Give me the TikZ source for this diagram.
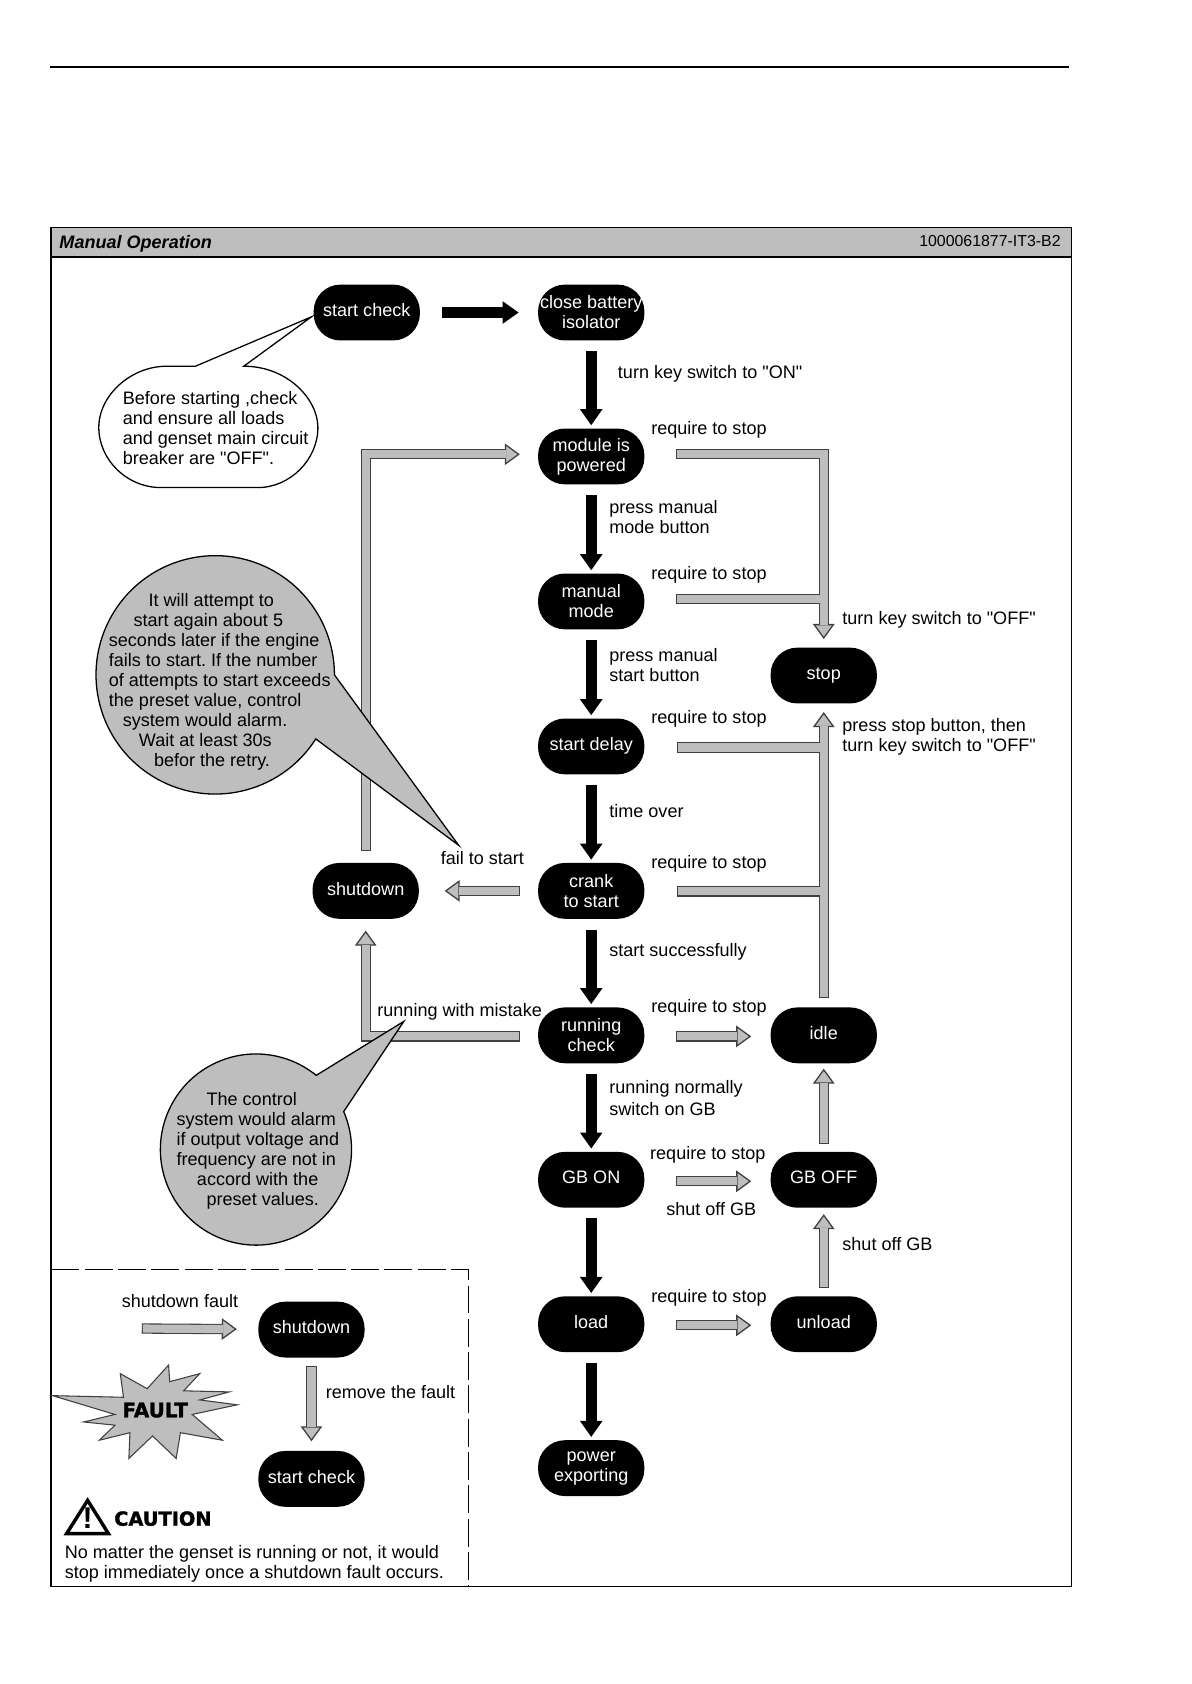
\documentclass[tikz,border=0pt]{standalone}
\usepackage{fontspec}
\setmainfont[Ligatures=TeXOff]{Liberation Sans}
\newfontfamily\heavyfont[BoldFeatures={FakeBold=1.5}]{DejaVu Sans}
\usetikzlibrary{arrows.meta}

\definecolor{boxgrey}{HTML}{BEBEBE}
\definecolor{greyline}{HTML}{404040}

\tikzset{
    state/.style={fill=black, text=white, rounded corners=12.5pt, minimum width=49.5pt, minimum height=26pt, inner sep=0pt, outer sep=0pt, align=center},
    oneline/.style={state, align=none, text depth=2pt},
    lbl/.style={anchor=west, inner sep=0pt, align=left},
    note/.style={anchor=north west, inner sep=0pt, align=left},
    greytip/.tip={Triangle[length=7pt,width=10pt,line width=0.6pt,color=greyline,fill=boxgrey]},
    blackarrow/.style={line width=5pt, shorten <=5pt, shorten >=1.5pt, -{Triangle[length=7.5pt,width=10pt]}},
    greyback/.style={line width=4.8pt, draw=greyline},
    greyfront/.style={line width=3.8pt, draw=boxgrey},
    balloon/.style={draw=black, line width=0.6pt, fill=boxgrey}
}

% tail gap, head gap, path
\newcommand{\greyarrow}[3]{
    \draw[greyback, shorten <=#1, shorten >=#2, -greytip] #3;
    \draw[greyfront, shorten <=#1+0.5pt, shorten >=#2+6.5pt] #3;
}

\begin{document}
\frenchspacing
\begin{tikzpicture}[x=0.5pt, y=-0.5pt, font=\fontsize{8.4}{9.3}\selectfont]
    \useasboundingbox (0,0) rectangle (1109,1568);

    % Rule and frame
    \draw[line width=1pt] (47,62) -- (995,62);
    \draw[line width=0.5pt, fill=boxgrey] (47.5,211.5) rectangle (997.5,239);
    \draw[line width=0.5pt] (47.5,211.5) rectangle (997.5,1477.5);
    \draw[line width=1pt] (47.5,239) -- (997.5,239);
    \node[lbl, font=\fontsize{8.4}{9.3}\selectfont\bfseries\itshape] (title) at (55,227) {Manual Operation};
    \node[anchor=east, inner sep=0pt, font=\fontsize{7.4}{9}\selectfont] (docno) at (988,224) {1000061877-IT3-B2};

    % Legend border
    \draw[line width=0.5pt, dash pattern=on 13pt off 2.5pt] (48,1182) -- (436,1182) -- (436,1477);

    % Main states
    \node[oneline] (check) at (341.5,291) {start check};
    \node[state] (close) at (550.5,291) {close battery\\isolator};
    \node[state] (module) at (550.5,425) {module is\\powered};
    \node[state] (manual) at (550.5,560) {manual\\mode};
    \node[oneline] (delay) at (550.5,695) {start delay};
    \node[state] (crank) at (550.5,829.5) {crank\\to start};
    \node[state] (running) at (550.5,964) {running\\check};
    \node[oneline] (gbon) at (550.5,1098.5) {GB ON};
    \node[oneline] (load) at (550.5,1233) {load};
    \node[state] (power) at (550.5,1367) {power\\exporting};
    \node[oneline] (stop) at (767,629) {stop};
    \node[oneline] (idle) at (767,964) {idle};
    \node[oneline] (gboff) at (767,1098.5) {GB OFF};
    \node[oneline] (unload) at (767,1233) {unload};
    \node[oneline] (shutdown) at (340.5,829.5) {shutdown};

    % Legend states
    \node[oneline] (keyshut) at (290,1238) {shutdown};
    \node[oneline] (keycheck) at (290,1377) {start check};

    % Free ends
    \coordinate (joinA) at (767,558);
    \coordinate (joinB) at (767,696);
    \coordinate (joinC) at (767,830);
    \coordinate (faultin) at (132,1237);

    % Black arrows
    \draw[blackarrow, shorten <=10.5pt, shorten >=9pt] (check) -- (close);
    \foreach \a/\b in {close/module, module/manual, manual/delay, delay/crank, crank/running, running/gbon, gbon/load, load/power}
        \draw[blackarrow] (\a) -- (\b);

    % Grey arrows into stop
    \draw[greyback, shorten <=14.5pt] (manual.east |- joinA) -- (joinA);
    \draw[greyback, shorten <=15pt] (delay.east |- joinB) -- (joinB);
    \draw[greyback, shorten <=15pt] (crank.east |- joinC) -- (joinC);
    \greyarrow{14.5pt}{4pt}{([yshift=1pt]module.east) -| (stop.north)}
    \greyarrow{4.5pt}{4pt}{(idle) -- (stop)}
    \draw[greyfront, shorten <=15pt] (manual.east |- joinA) -- (joinA);
    \draw[greyfront, shorten <=15.5pt] (delay.east |- joinB) -- (joinB);
    \draw[greyfront, shorten <=15.5pt] (crank.east |- joinC) -- (joinC);

    % Other grey arrows
    \greyarrow{8.5pt}{12pt}{(crank) -- (shutdown)}
    \greyarrow{14.5pt}{9pt}{([yshift=-0.5pt]running.east) -- ([yshift=-0.5pt]idle.west)}
    \greyarrow{14.5pt}{9pt}{([yshift=-0.7pt]gbon.east) -- ([yshift=-0.7pt]gboff.west)}
    \greyarrow{14.5pt}{9pt}{([yshift=-0.5pt]load.east) -- ([yshift=-0.5pt]unload.west)}
    \greyarrow{3.5pt}{2.5pt}{(gboff) -- (idle)}
    \greyarrow{4pt}{3pt}{(unload) -- (gboff)}
    \greyarrow{8.5pt}{5.5pt}{([yshift=-0.5pt]running.west) -| (shutdown.south)}
    \greyarrow{5.5pt}{8.5pt}{(shutdown.north) |- ([yshift=1pt]module.west)}
    \greyarrow{0pt}{10pt}{(faultin) -- (keyshut)}
    \greyarrow{4pt}{4.5pt}{(keyshut) -- (keycheck)}

    % Balloons
    \draw[line width=0.6pt, fill=white] (227,341) .. controls (268,341) and (296,372) .. (296,398)
        .. controls (296,428) and (270,454) .. (240,454) -- (150,454)
        .. controls (118,454) and (92,428) .. (92,398)
        .. controls (92,368) and (122,341) .. (155,341) -- (182,341) -- (290,295) -- cycle;
    \draw[balloon] (294,688) arc (32.5:360:111) -- (427,787) -- cycle;
    \draw[balloon] (320,1035) arc (-23.4:309.1:89) -- (376,951) -- cycle;

    % Balloon text
    \node[note] (notecheck) at (114,364) {Before starting ,check\\and ensure all loads\\and genset main circuit\\breaker are "OFF".};
    \node[note] (noteretry) at (101,552) {\hspace*{18.5pt}It will attempt to\\\hspace*{11.5pt}start again about 5\\seconds later if the engine\\fails to start. If the number\\of attempts to start exceeds\\the preset value, control\\\hspace*{6.5pt}system would alarm.\\\hspace*{14pt}Wait at least 30s\\\hspace*{21pt}befor the retry.};
    \node[note] (notealarm) at (164,1017) {\hspace*{14pt}The control\\system would alarm\\if output voltage and\\frequency are not in\\\hspace*{9.5pt}accord with the\\\hspace*{14pt}preset values.};

    % Labels
    \node[lbl] (lblon) at (575,348) {turn key switch to "ON"};
    \foreach \n/\x/\y in {a/606/400, b/606/535, c/606/669, d/606/804, e/606/938, f/605/1075, g/606/1208}
        \node[lbl] (req\n) at (\x,\y) {require to stop};
    \node[lbl] (lblmode) at (567,481) {press manual\\mode button};
    \node[lbl] (lblstart) at (567,619) {press manual\\start button};
    \node[lbl] (lbltime) at (567,755) {time over};
    \node[lbl] (lblok) at (567,886) {start successfully};
    \node[lbl] (lblnormal) at (567,1022) {running normally\\[1pt]switch on GB};
    \node[lbl] (lbloff) at (784,577) {turn key switch to "OFF"};
    \node[lbl] (lblpress) at (784,686) {press stop button, then\\turn key switch to "OFF"};
    \node[lbl] (lblshuta) at (620,1126) {shut off GB};
    \node[lbl] (lblshutb) at (784,1158) {shut off GB};
    \node[lbl] (lblfail) at (410,799) {fail to start};
    \node[lbl] (lblmistake) at (351,942) {running with mistake};
    \node[lbl] (lblfault) at (113,1211) {shutdown fault};
    \node[lbl] (lblremove) at (303,1296) {remove the fault};

    % Fault star
    \draw[draw=greyline, line width=0.5pt, fill=boxgrey] (49,1299.5) -- (115,1301) -- (112,1279) -- (137,1293) -- (157,1271) -- (158,1286.5) -- (186,1279) -- (171,1295) -- (213.5,1296) -- (186,1303.5) -- (221,1308) -- (179,1317) -- (207,1341) -- (168,1334) -- (164,1358) -- (142,1337) -- (120,1358) -- (121,1334) -- (92.5,1341) -- (107,1327) -- (78,1324) -- (107,1317) -- cycle;
    \node[inner sep=0pt, font=\heavyfont\bfseries\fontsize{9.3}{10}\selectfont] (fault) at (144.5,1313) {FAULT};

    % Caution
    \draw[line width=1.6pt, line join=miter] (81.6,1397) -- (101,1428) -- (62,1428) -- cycle;
    \node[inner sep=0pt, font=\bfseries\fontsize{14}{14}\selectfont] (bang) at (81.6,1414) {!};
    \node[lbl, font=\heavyfont\bfseries\fontsize{9}{10}\selectfont] (caution) at (106,1414) {CAUTION};
    \node[lbl] (cautiontext) at (60,1456) {No matter the genset is running or not, it would\\stop immediately once a shutdown fault occurs.};
\end{tikzpicture}
\end{document}
